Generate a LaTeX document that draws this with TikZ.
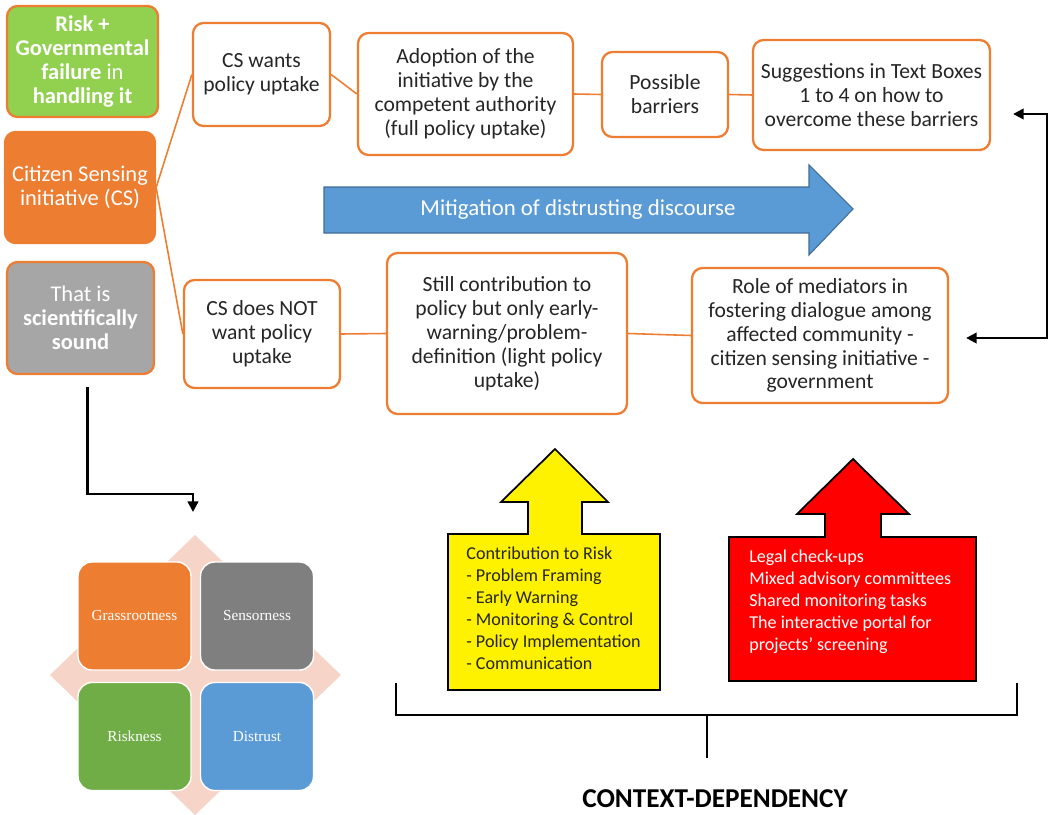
\documentclass[tikz,border=0pt]{standalone}
\usepackage{fontspec}
\setmainfont{Carlito}
\newfontfamily\matfont{Liberation Serif}
\usetikzlibrary{arrows.meta,calc}
\definecolor{boxorange}{RGB}{237,125,49}
\definecolor{riskgreen}{RGB}{146,208,80}
\definecolor{soundgray}{RGB}{166,166,166}
\definecolor{mitblue}{RGB}{91,155,213}
\definecolor{mggray}{RGB}{127,127,127}
\definecolor{mggreen}{RGB}{112,173,71}
\definecolor{diapink}{RGB}{246,212,200}
\begin{document}
\begin{tikzpicture}[x=0.02cm,y=-0.02cm,
    sz/.style 2 args={minimum width=#1*0.02cm,minimum height=#2*0.02cm},
    obox/.style={draw=boxorange,line width=1.3pt,rounded corners=6pt,fill=white,
        text=black!85,align=center,inner sep=1pt,font=\fontsize{12.3}{13.6}\selectfont},
    lbox/.style={obox,font=\fontsize{12.8}{13.6}\selectfont,text=white},
    oline/.style={draw=boxorange,line width=0.9pt},
    bline/.style={draw=black,line width=1.3pt},
    tip/.style={-{Triangle[length=6pt,width=6pt]}},
    mbox/.style={draw=white,line width=0.8pt,rounded corners=8pt,sz={113}{108},
        text=white,font=\matfont\fontsize{8.7}{10}\selectfont},
    arrline/.style={draw=black,line width=1pt,line join=miter},
    listtext/.style={anchor=north west,align=left,inner sep=0pt,
        font=\fontsize{10.3}{12.5}\selectfont}]
    \useasboundingbox (0,0) rectangle (1053,814);
    % left column
    \node[lbox,sz={151}{111},fill=riskgreen] (risk) at (82.5,61.5)
        {\textbf{Risk +}\\ \textbf{Governmental}\\ \textbf{failure} in\\ \textbf{handling it}};
    \node[lbox,sz={150}{111},fill=boxorange] (cs) at (80,187.5)
        {Citizen Sensing\\ initiative (CS)};
    \node[lbox,sz={147}{112},fill=soundgray] (sound) at (80.5,318)
        {That is\\ \textbf{scientifically}\\ \textbf{sound}};
    % upper branch
    \node[obox,sz={137}{103}] (wants) at (261.5,74.5) {CS wants\\ policy uptake};
    \node[obox,sz={215}{122}] (adopt) at (465.5,94)
        {Adoption of the\\ initiative by the\\ competent authority\\ (full policy uptake)};
    \node[obox,sz={126}{85}] (barr) at (665,94.5) {Possible\\ barriers};
    \node[obox,sz={237}{110}] (sugg) at (871.5,95)
        {Suggestions in Text Boxes\\ 1 to 4 on how to\\ overcome these barriers};
    % lower branch
    \node[obox,sz={156}{108}] (notw) at (262,334) {CS does NOT\\ want policy\\ uptake};
    \node[obox,sz={240}{161}] (still) at (507,333.5)
        {Still contribution to\\ policy but only early-\\ warning/problem-\\ definition (light policy\\ uptake)};
    \node[obox,sz={256}{135}] (role) at (820,335.5)
        {Role of mediators in\\ fostering dialogue among\\ affected community -\\ citizen sensing initiative -\\ government};
    \draw[oline] (cs.east) -- (wants.west);
    \draw[oline] (cs.east) -- (notw.west);
    \foreach \a/\b in {wants/adopt,adopt/barr,barr/sugg,notw/still,still/role}
        \draw[oline] (\a.east) -- (\b.west);
    % mitigation arrow
    \draw[fill=mitblue,draw=mitblue!70!black,line width=0.6pt]
        (324,187) -- (809,187) -- (809,165) -- (853,209) -- (809,255) -- (809,233) -- (324,233) -- cycle;
    \node[text=white,font=\fontsize{13}{15}\selectfont] (mitig) at (578,210)
        {Mitigation of distrusting discourse};
    % feedback loop on the right
    \coordinate (loopT) at (1047,114);
    \coordinate (loopB) at (1047,338);
    \draw[bline,{Triangle[length=6pt,width=6pt]}-{Triangle[length=6pt,width=6pt]}]
        ($(sugg.east |- loopT)+(22,0)$) -- (loopT) -- (loopB) -- ($(role.east |- loopB)+(17,0)$);
    % to the matrix
    \coordinate (mtop) at (193,512);
    \draw[bline,tip] ([shift={(7,12)}]sound.south) -- ++(0,107) -| (mtop);
    \fill[diapink] (195,535) -- (341,675) -- (195,815) -- (50,675) -- cycle;
    \foreach \nm/\txt/\col/\cx/\cy in {grass/Grassrootness/boxorange/134.5/616,
        senso/Sensorness/mggray/257/616, riskn/Riskness/mggreen/134.5/736.5,
        distr/Distrust/mitblue/257/736.5}
        \node[mbox,fill=\col] (\nm) at (\cx,\cy) {\txt};
    % context arrows
    \draw[arrline,fill=yellow] (555,449) -- (608,502) -- (582,502) -- (582,534) -- (660,534)
        -- (660,690) -- (448,690) -- (448,534) -- (528,534) -- (528,502) -- (501,502) -- cycle;
    \node[listtext,text=black!85] (contrib) at (466,547)
        {Contribution to Risk\\ - Problem Framing\\ - Early Warning\\ - Monitoring \& Control\\ - Policy Implementation\\ - Communication};
    \draw[arrline,fill=red] (853,459) -- (909,514) -- (881,514) -- (881,537) -- (976,537)
        -- (976,681) -- (729,681) -- (729,537) -- (825,537) -- (825,514) -- (797,514) -- cycle;
    \node[listtext,text=white] (tools) at (749,550)
        {Legal check-ups\\ Mixed advisory committees\\ Shared monitoring tasks\\ The interactive portal for\\ projects’ screening};
    % bracket
    \coordinate (brL) at (396,683);
    \coordinate (brR) at (1017,683);
    \coordinate (brM) at (707,715);
    \draw[bline] (brL) -- (396,715) -- (1017,715) -- (brR);
    \draw[bline] (brM) -- ++(0,43);
    \node[font=\fontsize{15.5}{17}\selectfont\bfseries] (ctx) at (715,799) {CONTEXT-DEPENDENCY};
\end{tikzpicture}
\end{document}
